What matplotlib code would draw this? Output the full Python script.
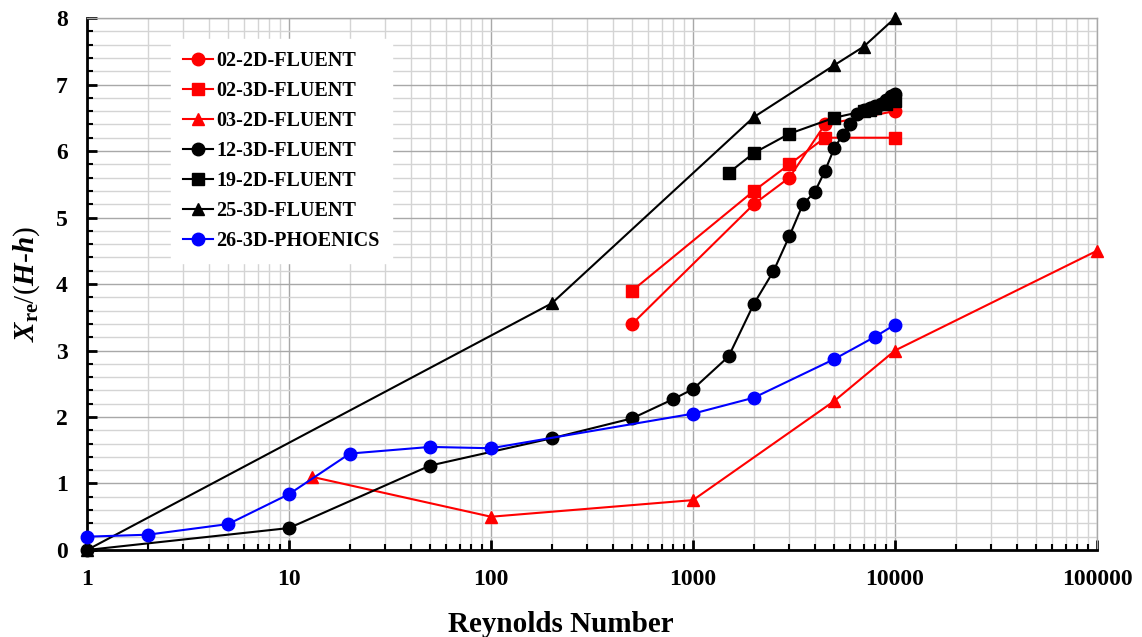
import matplotlib
matplotlib.use("Agg")
import matplotlib.pyplot as plt
from matplotlib.ticker import LogLocator, MultipleLocator, FixedLocator, FixedFormatter, NullFormatter

plt.rcParams["font.family"] = ["Liberation Serif", "DejaVu Serif"]
plt.rcParams["font.weight"] = "bold"
plt.rcParams["mathtext.fontset"] = "custom"
plt.rcParams["mathtext.rm"] = "Liberation Serif:bold"
plt.rcParams["mathtext.it"] = "Liberation Serif:italic:bold"
plt.rcParams["mathtext.bf"] = "Liberation Serif:bold"

# ── Data ─────────────────────────────────────────────────────────────────────
re_02_2d = [500, 2000, 3000, 4500, 10000]
xr_02_2d = [3.40, 5.20, 5.60, 6.40, 6.60]

re_02_3d = [500, 2000, 3000, 4500, 10000]
xr_02_3d = [3.90, 5.40, 5.80, 6.20, 6.20]

re_03_2d = [13, 100, 1000, 5000, 10000, 100000]
xr_03_2d = [1.10, 0.50, 0.75, 2.24, 3.00, 4.50]

re_12_3d = [1, 10, 50, 200, 500, 800, 1000, 1500, 2000, 2500, 3000, 3500, 4000,
            4500, 5000, 5500, 6000, 6500, 7000, 7500, 8000, 8500, 9000, 9500, 10000]
xr_12_3d = [0.00, 0.33, 1.27, 1.68, 1.98, 2.27, 2.42, 2.91, 3.70, 4.19, 4.72, 5.20, 5.38,
            5.70, 6.04, 6.24, 6.41, 6.56, 6.62, 6.64, 6.67, 6.71, 6.77, 6.82, 6.86]

re_19_2d = [1500, 2000, 3000, 5000, 7000, 7500, 8000, 9000, 10000]
xr_19_2d = [5.67, 5.97, 6.26, 6.50, 6.60, 6.62, 6.64, 6.70, 6.75]

re_25_3d = [1, 200, 2000, 5000, 7000, 10000]
xr_25_3d = [0.00, 3.71, 6.51, 7.29, 7.57, 8.00]

re_26_3d = [1, 2, 5, 10, 20, 50, 100, 1000, 2000, 5000, 8000, 10000]
xr_26_3d = [0.20, 0.23, 0.39, 0.84, 1.45, 1.55, 1.53, 2.05, 2.29, 2.87, 3.21, 3.39]

x_ticks = [1, 10, 100, 1000, 10000, 100000]
x_tick_labels = ["1", "10", "100", "1000", "10000", "100000"]

# ── Figure ───────────────────────────────────────────────────────────────────
fig = plt.figure(figsize=(11.42, 6.37), dpi=100)
ax = fig.add_axes([0.0762, 0.1366, 0.8844, 0.8351])

series = [
    (re_02_2d, xr_02_2d, "red", "o", "02-2D-FLUENT"),
    (re_02_3d, xr_02_3d, "red", "s", "02-3D-FLUENT"),
    (re_03_2d, xr_03_2d, "red", "^", "03-2D-FLUENT"),
    (re_12_3d, xr_12_3d, "black", "o", "12-3D-FLUENT"),
    (re_19_2d, xr_19_2d, "black", "s", "19-2D-FLUENT"),
    (re_25_3d, xr_25_3d, "black", "^", "25-3D-FLUENT"),
    (re_26_3d, xr_26_3d, "blue", "o", "26-3D-PHOENICS"),
]
for x, y, c, m, lab in series:
    ax.plot(x, y, color=c, marker=m, markersize=9, linewidth=1.5,
            label=lab, clip_on=False, zorder=3)

ax.set_xscale("log")
ax.set_xlim(1, 100000)
ax.set_ylim(0, 8)

ax.xaxis.set_major_locator(FixedLocator(x_ticks))
ax.xaxis.set_major_formatter(FixedFormatter(x_tick_labels))
ax.xaxis.set_minor_locator(LogLocator(base=10, subs=range(2, 10), numticks=20))
ax.xaxis.set_minor_formatter(NullFormatter())
ax.yaxis.set_major_locator(MultipleLocator(1))
ax.yaxis.set_minor_locator(MultipleLocator(0.2))

ax.grid(which="major", color="#a8a8a8", linewidth=1.0, zorder=0)
ax.grid(which="minor", color="#d4d4d4", linewidth=1.0, zorder=0)
ax.set_axisbelow(True)

for side in ("top", "right"):
    ax.spines[side].set_color("#a8a8a8")
    ax.spines[side].set_linewidth(1.0)
for side in ("left", "bottom"):
    ax.spines[side].set_linewidth(2.0)
    ax.spines[side].set_color("black")

ax.tick_params(which="major", direction="in", length=7, width=2, labelsize=17, pad=14)
ax.tick_params(which="minor", direction="in", length=4, width=1.5)
ax.tick_params(top=False, right=False, which="both")

ax.set_xlabel("Reynolds Number", fontsize=21, fontweight="bold", labelpad=12)
ax.xaxis.set_label_coords(0.469, -0.115)
ax.set_ylabel(r"$X_{\rm re}$/($H$-$h$)", fontsize=21, labelpad=10)

leg = ax.legend(loc="upper left", bbox_to_anchor=(0.073, 0.98), fontsize=14.5,
                frameon=True, fancybox=False, edgecolor="white", facecolor="white",
                framealpha=1.0, handlelength=1.5, handletextpad=0.15,
                labelspacing=0.5, borderpad=0.6)
for t in leg.get_texts():
    t.set_fontweight("bold")

fig.savefig("out.png", dpi=100)
plt.close(fig)
